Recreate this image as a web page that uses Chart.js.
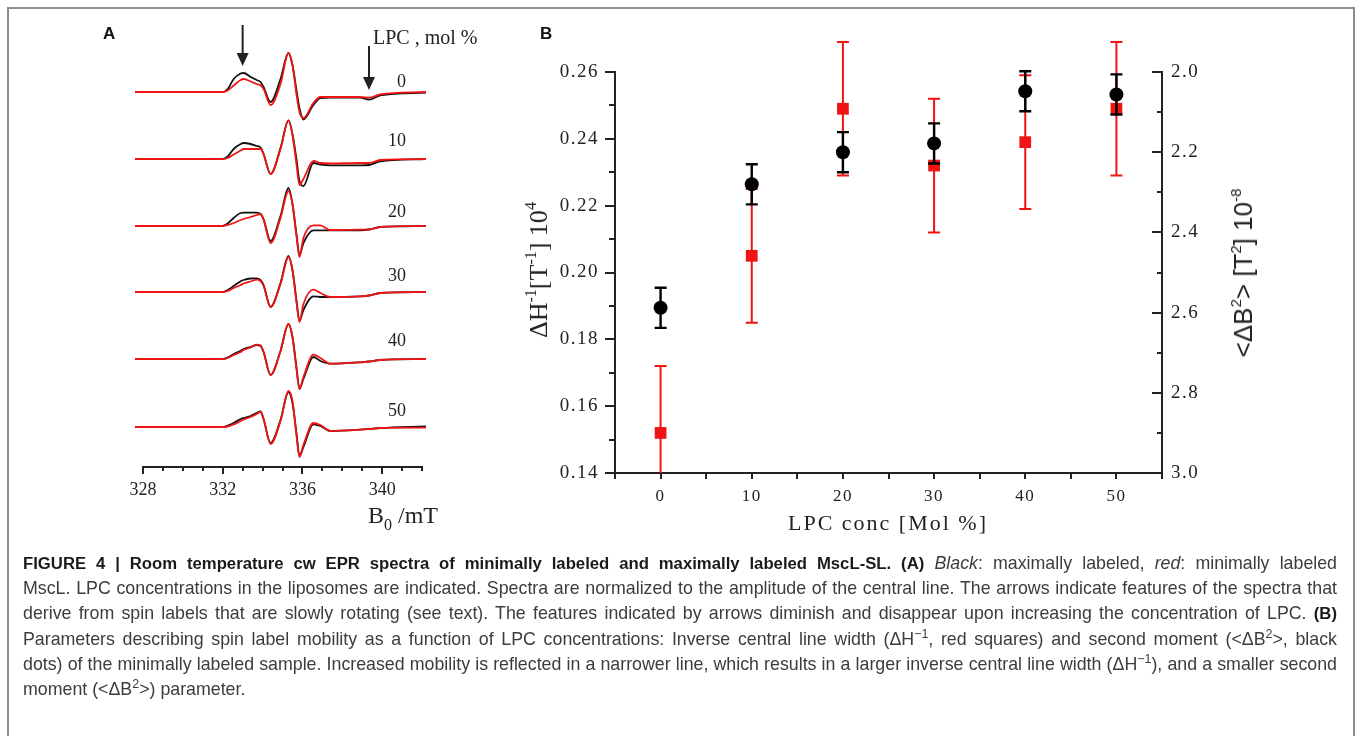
<!DOCTYPE html>
<html>
<head>
<meta charset="utf-8">
<title>Figure 4 - EPR spectra and mobility parameters</title>
<script src="https://cdn.jsdelivr.net/npm/chart.js@4.4.1/dist/chart.umd.min.js"></script>
<style>
  html, body { margin: 0; padding: 0; background: #fff; }
  body { width: 1358px; height: 736px; position: relative; overflow: hidden; font-family: 'Liberation Sans', Arial, sans-serif; }
  .frame { position: absolute; left: 7px; top: 7px; width: 1348px; height: 780px; border: 2px solid #8c8c8c; box-sizing: border-box; }
  .box { position: absolute; }
  .letter { position: absolute; font: bold 17px 'Liberation Sans', Arial, sans-serif; color: #111; line-height: 1; }
  .serif { position: absolute; font-family: 'Liberation Serif', 'Times New Roman', serif; color: #222; line-height: 1; white-space: nowrap; }
  .sans { position: absolute; font-family: 'Liberation Sans', Arial, 'DejaVu Sans', sans-serif; color: #222; line-height: 1; white-space: nowrap; }
  sup, sub { line-height: 0; }
  .caption { position: absolute; left: 23px; top: 551px; font-size: 17.8px; line-height: 25.2px; color: #3c3c3c; }
  .caption div { white-space: nowrap; width: 1314px; text-align: justify; text-align-last: justify; }
  .caption div.last { text-align-last: left; }
  .caption b { color: #1a1a1a; font-size: 0.94em; }
  .caption sup { font-size: 70%; vertical-align: 0.55em; }
</style>
</head>
<body>
<div class="frame"></div>

<div class="box" style="left:100px; top:0px; width:400px; height:540px;"><canvas id="spectra" width="400" height="540"></canvas></div>
<div class="box" style="left:500px; top:0px; width:780px; height:560px;"><canvas id="mobility" width="780" height="560"></canvas></div>

<div class="letter" style="left:103px; top:25px;">A</div>
<div class="letter" style="left:540px; top:25px;">B</div>

<div class="serif" style="left:373px; top:37px; font-size:20px; transform:translateY(-50%);">LPC , mol %</div>
<div class="serif" style="left:368px; top:515px; font-size:24px; transform:translateY(-50%);">B<sub style="font-size:16px; vertical-align:-0.45em;">0</sub> /mT</div>

<div class="serif" style="left:888px; top:523px; font-size:22px; letter-spacing:2px; transform:translate(-50%,-50%);">LPC conc [Mol %]</div>
<div class="serif" style="left:539px; top:270px; font-size:26px; transform:translate(-50%,-50%) rotate(-90deg);">&Delta;H<sup style="font-size:16px; vertical-align:0.7em;">-1</sup>[T<sup style="font-size:16px; vertical-align:0.7em;">-1</sup>] 10<sup style="font-size:16px; vertical-align:0.7em;">4</sup></div>
<div class="sans" style="left:1243px; top:273px; font-size:26px; transform:translate(-50%,-50%) rotate(-90deg);">&lt;&Delta;B<sup style="font-size:15px; vertical-align:0.75em;">2</sup>&gt; [T<sup style="font-size:15px; vertical-align:0.75em;">2</sup>] 10<sup style="font-size:15px; vertical-align:0.75em;">-8</sup></div>

<div class="caption">
  <div><b>FIGURE 4 | Room temperature cw EPR spectra of minimally labeled and maximally labeled MscL-SL. (A)</b> <i>Black</i>: maximally labeled, <i>red</i>: minimally labeled</div>
  <div>MscL. LPC concentrations in the liposomes are indicated. Spectra are normalized to the amplitude of the central line. The arrows indicate features of the spectra that</div>
  <div>derive from spin labels that are slowly rotating (see text). The features indicated by arrows diminish and disappear upon increasing the concentration of LPC. <b>(B)</b></div>
  <div>Parameters describing spin label mobility as a function of LPC concentrations: Inverse central line width (&Delta;H<sup>&minus;1</sup>, red squares) and second moment (&lt;&Delta;B<sup>2</sup>&gt;, black</div>
  <div>dots) of the minimally labeled sample. Increased mobility is reflected in a narrower line, which results in a larger inverse central line width (&Delta;H<sup>&minus;1</sup>), and a smaller second</div>
  <div class="last">moment (&lt;&Delta;B<sup>2</sup>&gt;) parameter.</div>
</div>

<script>
// ---- panel A data: field positions (mT) and trace amplitudes ----
const fieldMT = [327.6, 332.0, 332.25, 332.55, 332.9, 333.05, 333.4, 333.7, 333.9, 334.05, 334.4, 334.9,
  335.3, 335.5, 335.7, 335.85, 336.05, 336.55, 336.9, 337.4, 338.9, 339.35, 339.9, 342.2];
const lpcLevels = [0, 10, 20, 30, 40, 50];
const traceOffsets = [375, 308, 241, 175, 108, 40];   // baseline of each stacked spectrum
const labelLift = [10, 17.5, 14, 15.5, 17.5, 16];
const labelField = 341.2;

// black: maximally labeled
const blackSpectra = [
  [0, 0, 3, 13, 18.5, 19, 15, 12, 10, 5, -10, 13, 39, 27, 2, -16, -27.5, -13, -6, -5.7, -5.7, -7.7, -3.3, -0.7],
  [0, 0, 2.5, 10, 15, 16, 15, 13, 11.5, 5, -15, 11, 38.7, 25, 0, -22, -27, -4, -5.5, -6.3, -6.3, -6, -2.3, 0],
  [0, 0, 2.5, 8, 13, 13.3, 13.3, 13.3, 12, 7, -15, 10, 38, 22, -8, -29, -17, -4.3, -4.3, -4.3, -4.3, -3.5, -1, 0],
  [0, 0, 2, 6, 10.7, 12, 13.5, 13.7, 12, 7, -15, 9, 36, 22, -8, -29, -18, -4.3, -5, -5, -4.3, -3.5, -1, 0],
  [0, 0, 1.5, 5, 8.3, 10, 12, 14, 13, 7, -16, 8, 35, 22, -8, -30, -20, 2, -2, -4.7, -3.3, -2.5, -1, 0],
  [0, 0, 1.5, 4, 8, 9, 11, 14, 15.5, 8, -16, 7, 35, 24, -6, -29, -20, 2.7, 1, -4, -2.7, -2, -1, 0.7]
];
// red: minimally labeled
const redSpectra = [
  [0, 0, 1.5, 6.5, 12, 13, 10.5, 8, 6.7, 3, -13, 8, 39, 27, -2, -20, -26, -11, -5, -5, -5, -5.7, -2.5, 0],
  [0, 0, 1, 4.5, 8.5, 10, 10, 10, 10, 5, -15, 10, 38.7, 24, -5, -26, -20, -2, -4, -4.5, -4, -4, -1, 0],
  [0, 0, 1, 3, 6, 7, 9, 11, 12, 6, -17, 8, 35, 22, -10, -31, -12, 0.7, 0.7, -4, -3.7, -3.5, -1, 0],
  [0, 0, 1, 4, 7, 8.5, 10.5, 12.3, 11, 6, -15, 8, 35, 22, -10, -30, -12, 2.3, -1, -5, -4.3, -3.5, -1, 0],
  [0, 0, 1, 4, 7, 9, 11.5, 14.3, 13.5, 7, -16, 8, 35, 22, -10, -30, -18, 4.3, 1, -4.7, -3.3, -2.5, -1, 0],
  [0, 0, 0.5, 2.5, 6, 7.5, 10, 13, 15, 8, -17, 6, 36, 26, -8, -30, -18, 4, 2, -4, -2.7, -2, -1, -0.7]
];

// arrows marking the slow-motion features (field, top and tip in plot units)
const arrowField = [333.0, 339.34];
const arrowTop = [442, 421];
const arrowTip = [401, 377];

// ---- panel B data ----
const lpcConc = [0, 10, 20, 30, 40, 50];
const invLineWidth = [0.152, 0.205, 0.249, 0.232, 0.239, 0.249];   // red squares, left axis
const invLineWidthErr = [0.02, 0.02, 0.02, 0.02, 0.02, 0.02];
const secondMoment = [2.588, 2.280, 2.200, 2.178, 2.048, 2.056];    // black dots, right axis
const secondMomentErr = [0.05, 0.05, 0.05, 0.05, 0.05, 0.05];

const SERIF = "'Liberation Serif', 'Times New Roman', serif";
const INK = '#222';
const RED = '#f01414';

// draws tick marks ourselves so major/minor lengths and directions can differ
function tickMarks(specs) {
  return {
    id: 'tickMarks',
    afterDraw(chart) {
      const ctx = chart.ctx;
      const area = chart.chartArea;
      specs.forEach(s => {
        const sc = chart.scales[s.axis];
        ctx.save();
        ctx.strokeStyle = INK;
        ctx.lineWidth = 2;
        sc.ticks.forEach(t => {
          const len = s.isMajor(t.value) ? s.major : s.minor;
          const p = Math.round(sc.getPixelForValue(t.value));
          ctx.beginPath();
          if (s.side === 'bottom') {
            ctx.moveTo(p, area.bottom); ctx.lineTo(p, area.bottom + len);
          } else if (s.side === 'left') {
            ctx.moveTo(area.left, p); ctx.lineTo(area.left - len, p);
          } else {
            ctx.moveTo(area.right, p); ctx.lineTo(area.right - len, p);
          }
          ctx.stroke();
        });
        ctx.restore();
      });
    }
  };
}

function makeTrace(amp, offset, color, order) {
  return {
    data: fieldMT.map((b, k) => ({ x: b, y: offset + amp[k] })),
    borderColor: color,
    borderWidth: 1.8,
    pointRadius: 0,
    showLine: true,
    cubicInterpolationMode: 'monotone',
    clip: false,
    order: order
  };
}

const spectraSets = [];
lpcLevels.forEach((lvl, i) => {
  spectraSets.push(makeTrace(blackSpectra[i], traceOffsets[i], '#111', 2));
  spectraSets.push(makeTrace(redSpectra[i], traceOffsets[i], RED, 1));
});

// concentration labels and arrows of panel A
const spectraNotes = {
  id: 'spectraNotes',
  afterDatasetsDraw(chart) {
    const { ctx, scales: { x, y } } = chart;
    ctx.save();
    ctx.fillStyle = INK;
    ctx.strokeStyle = INK;
    ctx.font = '18px ' + SERIF;
    ctx.textAlign = 'right';
    ctx.textBaseline = 'middle';
    lpcLevels.forEach((lvl, i) => {
      ctx.fillText(String(lvl), x.getPixelForValue(labelField), y.getPixelForValue(traceOffsets[i] + labelLift[i]));
    });
    ctx.lineWidth = 2;
    arrowField.forEach((f, i) => {
      const px = x.getPixelForValue(f);
      const top = y.getPixelForValue(arrowTop[i]);
      const tip = y.getPixelForValue(arrowTip[i]);
      ctx.beginPath();
      ctx.moveTo(px, top); ctx.lineTo(px, tip - 8);
      ctx.stroke();
      ctx.beginPath();
      ctx.moveTo(px - 6, tip - 13); ctx.lineTo(px + 6, tip - 13); ctx.lineTo(px, tip);
      ctx.closePath();
      ctx.fill();
    });
    ctx.restore();
  }
};

new Chart(document.getElementById('spectra'), {
  type: 'scatter',
  data: { datasets: spectraSets },
  options: {
    responsive: false,
    animation: false,
    layout: { padding: { left: 43, right: 78, top: 30, bottom: 0 } },
    plugins: { legend: { display: false }, tooltip: { enabled: false } },
    scales: {
      x: {
        type: 'linear', min: 328, max: 342,
        afterFit: s => { s.height = 73; },
        grid: { display: false, drawTicks: false },
        border: { display: true, color: INK, width: 2 },
        ticks: {
          stepSize: 1, autoSkip: false, maxRotation: 0, padding: 12, color: INK,
          font: { family: SERIF, size: 18 },
          callback: v => (v % 4 === 0 ? String(v) : '')
        }
      },
      y: { type: 'linear', display: false, min: 0, max: 437 }
    }
  },
  plugins: [spectraNotes, tickMarks([
    { axis: 'x', side: 'bottom', major: 7, minor: 4, isMajor: v => v % 4 === 0 }
  ])]
});

// error bars for panel B, drawn just before each dataset's markers
const errorBars = {
  id: 'errorBars',
  beforeDatasetDraw(chart, args) {
    const ds = chart.data.datasets[args.index];
    const xs = chart.scales[args.meta.xAxisID];
    const ys = chart.scales[args.meta.yAxisID];
    const ctx = chart.ctx;
    ctx.save();
    ctx.beginPath();
    ctx.rect(0, 0, chart.width, chart.chartArea.bottom);
    ctx.clip();
    ctx.strokeStyle = ds.borderColor;
    ctx.lineWidth = ds.barWidth;
    ds.data.forEach((p, k) => {
      const px = xs.getPixelForValue(p.x);
      const hi = ys.getPixelForValue(p.y + ds.errors[k]);
      const lo = ys.getPixelForValue(p.y - ds.errors[k]);
      ctx.beginPath();
      ctx.moveTo(px, hi); ctx.lineTo(px, lo);
      ctx.moveTo(px - 6, hi); ctx.lineTo(px + 6, hi);
      ctx.moveTo(px - 6, lo); ctx.lineTo(px + 6, lo);
      ctx.stroke();
    });
    ctx.restore();
  }
};

const spacedLabels = {
  id: 'spacedLabels',
  beforeDraw(chart) { chart.ctx.letterSpacing = '1.5px'; }
};

new Chart(document.getElementById('mobility'), {
  type: 'scatter',
  data: {
    datasets: [
      {
        label: 'second moment',
        data: lpcConc.map((c, k) => ({ x: c, y: secondMoment[k] })),
        yAxisID: 'yR',
        errors: secondMomentErr,
        barWidth: 2.4,
        pointStyle: 'circle',
        pointRadius: 7,
        backgroundColor: '#000',
        borderColor: '#000',
        borderWidth: 0,
        order: 1
      },
      {
        label: 'inverse central line width',
        data: lpcConc.map((c, k) => ({ x: c, y: invLineWidth[k] })),
        yAxisID: 'yL',
        errors: invLineWidthErr,
        barWidth: 2,
        pointStyle: 'rect',
        pointRadius: 8.3,
        backgroundColor: RED,
        borderColor: RED,
        borderWidth: 0,
        order: 2
      }
    ]
  },
  options: {
    responsive: false,
    animation: false,
    layout: { padding: { left: 0, right: 0, top: 72, bottom: 0 } },
    plugins: { legend: { display: false }, tooltip: { enabled: false } },
    scales: {
      x: {
        type: 'linear', min: -5, max: 55,
        afterFit: s => { s.height = 87; },
        grid: { display: false, drawTicks: false },
        border: { display: true, color: INK, width: 2 },
        ticks: {
          stepSize: 5, autoSkip: false, maxRotation: 0, padding: 13, color: INK,
          font: { family: SERIF, size: 17 },
          callback: v => (v % 10 === 0 && v >= 0 && v <= 50 ? String(v) : '')
        }
      },
      yL: {
        type: 'linear', position: 'left', min: 0.14, max: 0.26,
        afterFit: s => { s.width = 115; },
        grid: { display: false, drawTicks: false },
        border: { display: true, color: INK, width: 2 },
        ticks: {
          stepSize: 0.01, autoSkip: false, padding: 16, color: INK,
          font: { family: SERIF, size: 19 },
          callback: v => (Math.round(v * 100) % 2 === 0 ? v.toFixed(2) : '')
        }
      },
      yR: {
        type: 'linear', position: 'right', min: 2.0, max: 3.0, reverse: true,
        afterFit: s => { s.width = 118; },
        grid: { display: false, drawTicks: false },
        border: { display: true, color: INK, width: 2 },
        ticks: {
          stepSize: 0.1, autoSkip: false, padding: 9, color: INK,
          font: { family: SERIF, size: 19 },
          callback: v => (Math.round(v * 10) % 2 === 0 ? v.toFixed(1) : '')
        }
      }
    }
  },
  plugins: [spacedLabels, errorBars, tickMarks([
    { axis: 'x', side: 'bottom', major: 6, minor: 6, isMajor: v => true },
    { axis: 'yL', side: 'left', major: 10, minor: 6, isMajor: v => Math.round(v * 100) % 2 === 0 },
    { axis: 'yR', side: 'rightIn', major: 10, minor: 5, isMajor: v => Math.round(v * 10) % 2 === 0 }
  ])]
});
</script>
</body>
</html>
